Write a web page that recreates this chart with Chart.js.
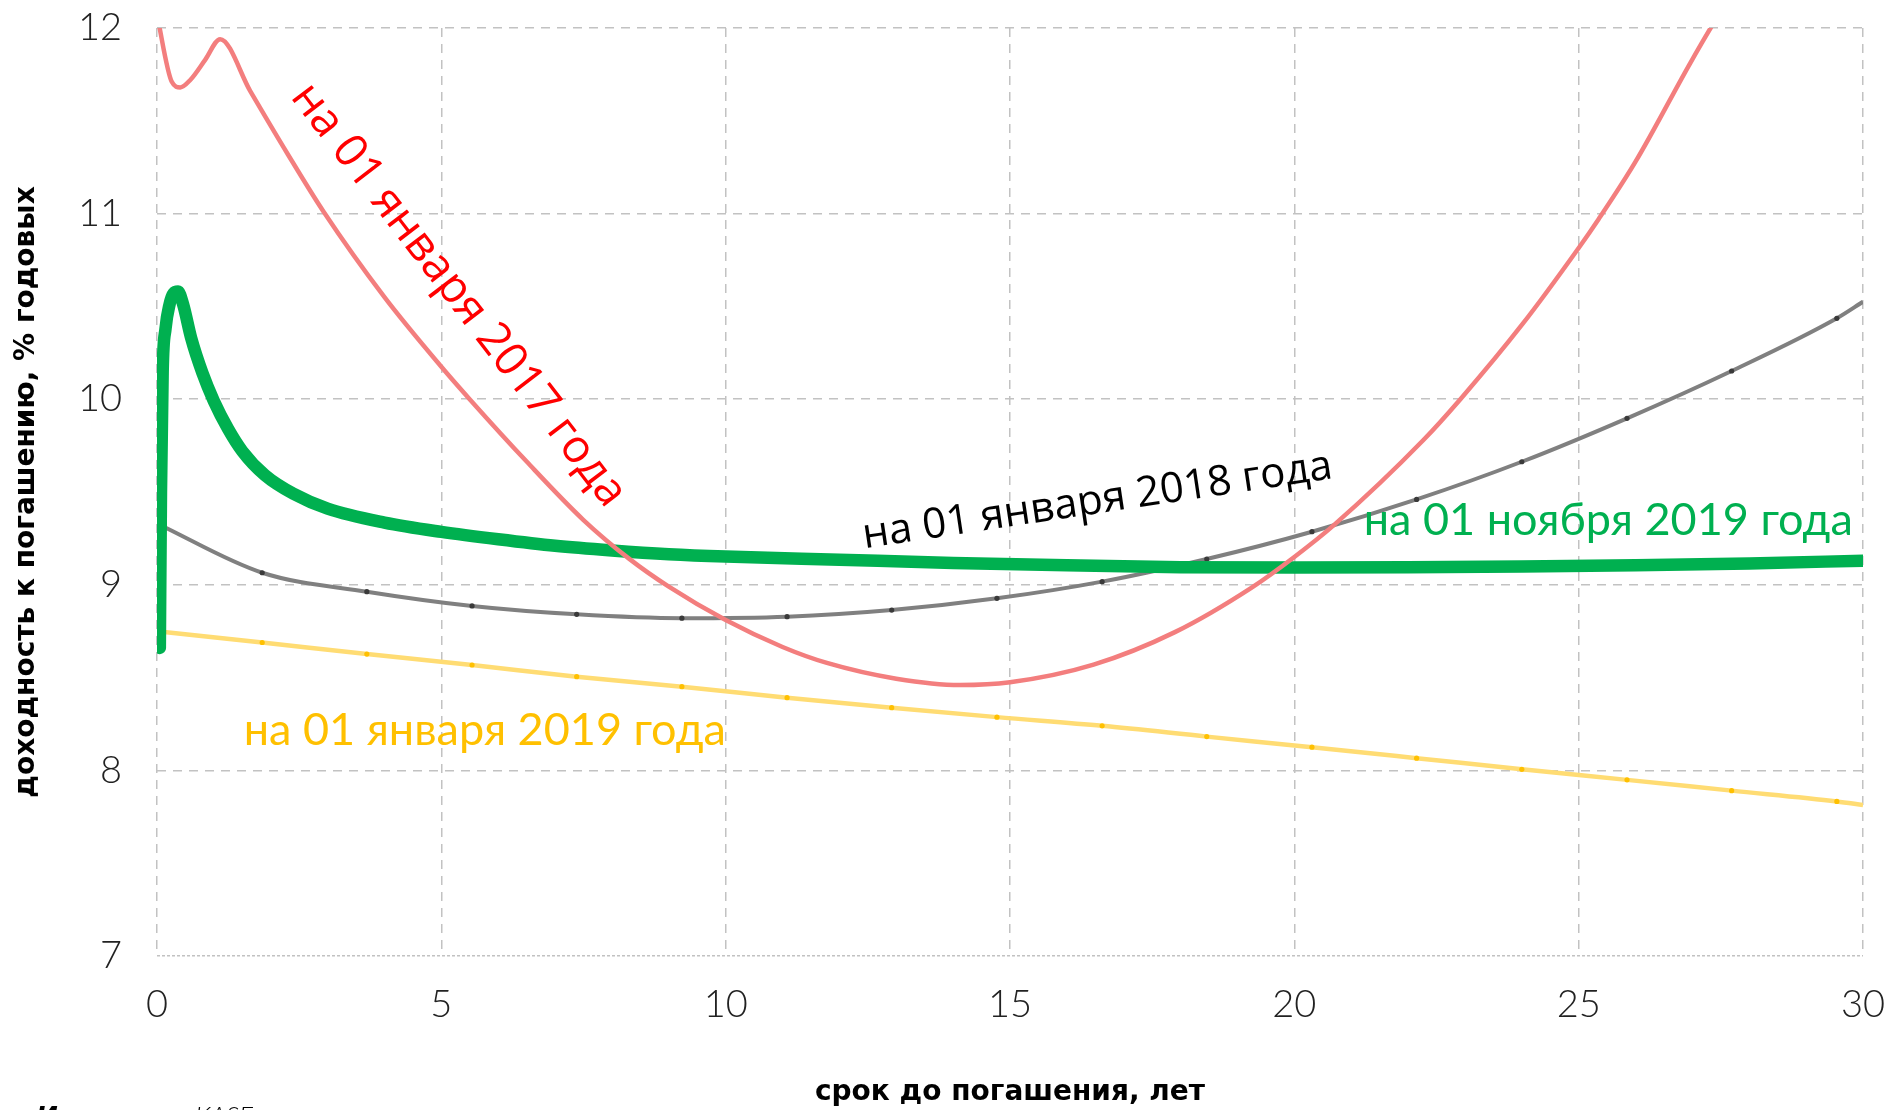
<!DOCTYPE html>
<html>
<head>
<meta charset="utf-8">
<script src="https://cdn.jsdelivr.net/npm/chart.js@4.4.1/dist/chart.umd.min.js"></script>
<style>
  html, body { margin: 0; padding: 0; background: #fff; }
  canvas { display: block; }
</style>
</head>
<body>
<canvas id="curveChart" width="1887" height="1110"></canvas>
<script>
// axis ticks
const xTicks = [0, 5, 10, 15, 20, 25, 30];
const yTicks = [7, 8, 9, 10, 11, 12];

// curve names
const curveNames = ['на 01 января 2017 года', 'на 01 января 2018 года', 'на 01 ноября 2019 года', 'на 01 января 2019 года'];

// 01.01.2017 curve (years, % yield)
const jan2017X = [0, 0.26, 0.41, 0.585, 0.85, 1.11, 1.64, 2.3, 2.93, 4.0, 5.0, 5.51, 6.5, 7.5, 8.3, 9.0, 10.0, 11.0, 11.78, 13.0, 14.12, 15.0, 16.47, 17.9, 19.25, 20.0, 20.69, 22.27, 22.92, 24.0, 25.0, 25.35, 26.0, 26.96, 27.36, 28.0];
const jan2017Y = [12.07, 11.71, 11.68, 11.72, 11.83, 11.94, 11.66, 11.32, 11.01, 10.55, 10.175, 9.996, 9.664, 9.349, 9.141, 8.99, 8.81, 8.665, 8.579, 8.494, 8.46, 8.475, 8.57, 8.745, 8.985, 9.15, 9.32, 9.78, 10.0, 10.4, 10.815, 10.97, 11.28, 11.81, 12.02, 12.33];

// 01.01.2018 and 01.01.2019 curves share the same maturities
const markX = [0, 1.85, 3.69, 5.54, 7.38, 9.23, 11.08, 12.92, 14.77, 16.62, 18.46, 20.31, 22.15, 24.0, 25.85, 27.69, 29.54, 30];
const jan2018Y = [9.33, 9.065, 8.963, 8.886, 8.841, 8.82, 8.828, 8.864, 8.927, 9.017, 9.139, 9.286, 9.46, 9.663, 9.897, 10.152, 10.436, 10.525];
const jan2019Y = [8.75, 8.689, 8.627, 8.568, 8.505, 8.451, 8.392, 8.338, 8.287, 8.24, 8.182, 8.125, 8.066, 8.006, 7.949, 7.891, 7.833, 7.814];

// 01.11.2019 curve
const nov2019X = [0.05, 0.07, 0.1, 0.15, 0.22, 0.29, 0.37, 0.46, 0.6, 0.8, 1.0, 1.25, 1.5, 1.9, 2.4, 3.0, 4.0, 5.0, 6.0, 7.0, 8.0, 9.0, 10, 12, 14, 16, 18, 20, 22, 24, 26, 28, 30];
const nov2019Y = [8.66, 9.5, 10.15, 10.38, 10.51, 10.57, 10.58, 10.51, 10.33, 10.14, 9.99, 9.84, 9.72, 9.59, 9.49, 9.41, 9.335, 9.285, 9.245, 9.21, 9.185, 9.165, 9.152, 9.135, 9.118, 9.105, 9.095, 9.093, 9.095, 9.099, 9.105, 9.115, 9.13];

const pts = (xs, ys) => xs.map((x, i) => ({ x: x, y: ys[i] }));
const innerDots = r => ctx => (ctx.dataIndex === 0 || ctx.dataIndex === markX.length - 1) ? 0 : r;

// where the curve names sit (in axis units) and how they look
const nameSpots = [
  { x: 5.30, y: 10.56, angle: 52.5, align: 'center', base: 'middle', color: '#ff0000', font: '400 46px "Open Sans"' },
  { x: 12.44, y: 9.197, angle: -8.5, align: 'left', base: 'alphabetic', color: '#000000', font: '400 42px "Open Sans"' },
  { x: 21.22, y: 9.268, angle: 0, align: 'left', base: 'alphabetic', color: '#00b050', font: '400 45px Lato' },
  { x: 1.525, y: 8.137, angle: 0, align: 'left', base: 'alphabetic', color: '#ffc000', font: '400 45px Lato' }
];

const namesPlugin = {
  id: 'curveNames',
  afterDraw(chart) {
    const { ctx, scales: { x, y } } = chart;
    ctx.save();
    nameSpots.forEach((s, i) => {
      ctx.save();
      ctx.translate(x.getPixelForValue(s.x), y.getPixelForValue(s.y));
      ctx.rotate(s.angle * Math.PI / 180);
      ctx.font = s.font;
      ctx.fillStyle = s.color;
      ctx.textAlign = s.align;
      ctx.textBaseline = s.base;
      ctx.fillText(curveNames[i], 0, 0);
      ctx.restore();
    });
    // source line, cut by the bottom edge
    ctx.fillStyle = '#000';
    ctx.textBaseline = 'alphabetic';
    ctx.textAlign = 'left';
    ctx.font = 'italic bold 26px "DejaVu Sans"';
    ctx.fillText('Источник:', 36, 1126);
    ctx.font = 'italic 300 26px Lato';
    ctx.fillText('KASE', 195, 1125);
    ctx.restore();
  }
};

const tickFont = { family: 'Lato', weight: 300, size: 38 };
const gridGray = '#c2c2c2';

new Chart(document.getElementById('curveChart'), {
  type: 'scatter',
  data: {
    datasets: [
      {
        label: curveNames[0],
        data: pts(jan2017X, jan2017Y),
        showLine: true,
        borderColor: '#f37e7e',
        borderWidth: 4.5,
        pointRadius: 0,
        cubicInterpolationMode: 'monotone',
        order: 0
      },
      {
        label: curveNames[1],
        data: pts(markX, jan2018Y),
        showLine: true,
        borderColor: '#808080',
        borderWidth: 4,
        pointRadius: innerDots(2.6),
        pointBackgroundColor: '#3a3a3a',
        pointBorderWidth: 0,
        cubicInterpolationMode: 'monotone',
        order: 2
      },
      {
        label: curveNames[2],
        data: pts(nov2019X, nov2019Y),
        showLine: true,
        borderColor: '#00b050',
        borderWidth: 12.5,
        borderCapStyle: 'round',
        pointRadius: 0,
        cubicInterpolationMode: 'monotone',
        order: 1
      },
      {
        label: curveNames[3],
        data: pts(markX, jan2019Y),
        showLine: true,
        borderColor: '#ffdc73',
        borderWidth: 4.5,
        pointRadius: innerDots(2.6),
        pointBackgroundColor: '#ffc000',
        pointBorderWidth: 0,
        cubicInterpolationMode: 'monotone',
        order: 3
      }
    ]
  },
  options: {
    responsive: false,
    animation: false,
    layout: { padding: { left: 0, right: 24, top: 28, bottom: 0 } },
    plugins: {
      legend: { display: false },
      tooltip: { enabled: false }
    },
    scales: {
      x: {
        type: 'linear',
        min: 0,
        max: 30,
        afterBuildTicks: axis => { axis.ticks = xTicks.map(v => ({ value: v })); },
        afterFit: axis => { axis.height = 154; axis.paddingLeft = 0; axis.paddingRight = 0; },
        grid: { color: gridGray, lineWidth: 1.5, drawTicks: false },
        border: { display: false, dash: [9, 7] },
        ticks: { font: tickFont, color: '#222', padding: 26, maxRotation: 0 },
        title: {
          display: true,
          text: 'срок до погашения, лет',
          color: '#000',
          font: { family: 'DejaVu Sans', weight: 'bold', size: 28 },
          padding: { top: 0, bottom: 0 }
        }
      },
      y: {
        type: 'linear',
        min: 7,
        max: 12,
        afterBuildTicks: axis => { axis.ticks = yTicks.map(v => ({ value: v })); },
        afterFit: axis => { axis.width = 157; axis.paddingTop = 0; axis.paddingBottom = 0; },
        grid: { color: gridGray, lineWidth: 1.5, drawTicks: false },
        border: {
          display: false,
          dash: ctx => (ctx.tick && ctx.tick.value === 7) ? [3, 2] : [9, 7]
        },
        ticks: { font: tickFont, color: '#222', padding: 35 },
        title: {
          display: true,
          text: 'доходность к погашению, % годовых',
          color: '#000',
          font: { family: 'DejaVu Sans', weight: 'bold', size: 28 },
          padding: { top: 10, bottom: 0 }
        }
      }
    }
  },
  plugins: [namesPlugin]
});
</script>
</body>
</html>
